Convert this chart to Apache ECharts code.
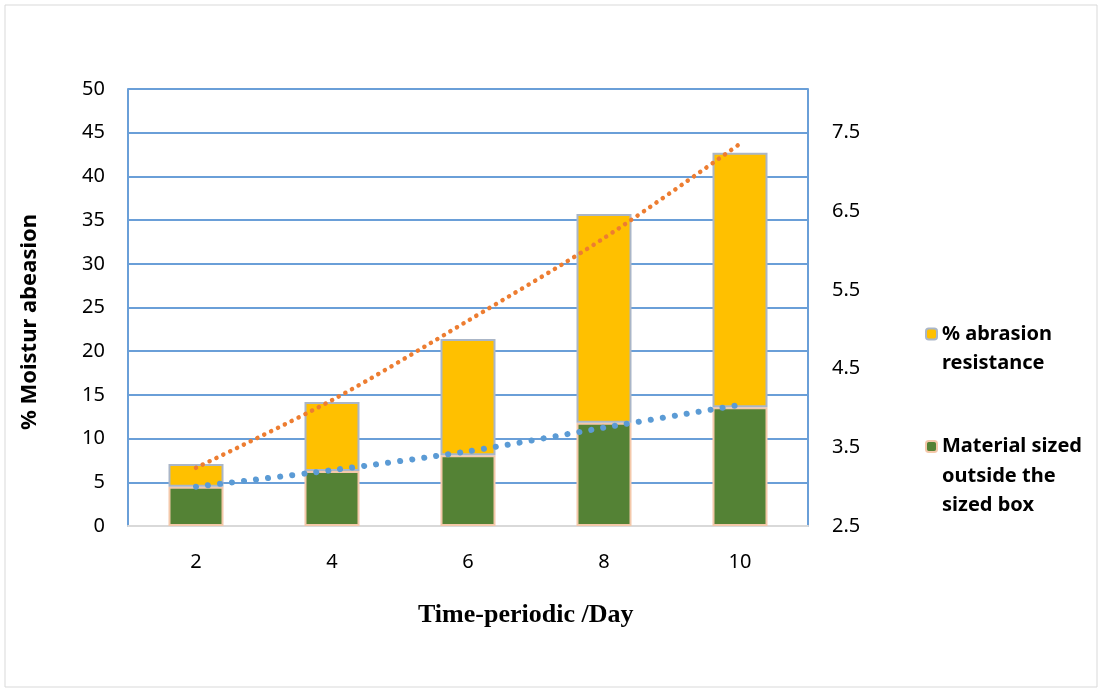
<html>
<head>
    <title>chart</title>
    <script src="https://cdn.jsdelivr.net/npm/echarts@6/dist/echarts.min.js"></script>
    <style>
        body { margin: 0; background: #fff; }
        #main { width: 1104px; height: 691px; }
    </style>
</head>
<body>
    <div id="main"></div>
    <script>
        var days = ['2', '4', '6', '8', '10'];
        // stacked bars (left axis)
        var materialOutside = [4.5, 6.3, 8.1, 11.8, 13.6];
        var abrasionResist = [2.6, 7.9, 13.3, 23.9, 29.1];
        // dotted trend lines (right axis)
        var trendOrange = [3.24, 4.10, 5.11, 6.16, 7.36];
        var trendBlue = [3.00, 3.21, 3.45, 3.75, 4.04];
        var leftTicks = { min: 0, max: 50, interval: 5 };
        var rightTicks = { min: 2.5, max: 2.5 + 50 / 9, interval: 1 };

        var chart = echarts.init(document.getElementById('main'));
        var font = 'Noto Sans';
        var gridBlue = '#6a9fd8';
        var legendText = { fontFamily: font, fontSize: 20, fontWeight: 'bold', color: '#000', lineHeight: 29.5 };

        var option = {
            animation: false,
            graphic: [{
                type: 'rect',
                shape: { x: 5, y: 5, width: 1092, height: 682 },
                style: { fill: 'none', stroke: '#d9d9d9', lineWidth: 1 }
            }, {
                type: 'text',
                left: 418, top: 595,
                style: { text: 'Time-periodic /Day', font: 'bold 26px "Liberation Serif"', fill: '#000' }
            }, {
                type: 'text',
                x: 30, y: 322,
                rotation: Math.PI / 2,
                style: {
                    text: '% Moistur abeasion', font: 'bold 22px "Noto Sans"', fill: '#000',
                    align: 'center', verticalAlign: 'middle'
                }
            }],
            grid: { left: 128, right: 296, top: 89, bottom: 165 },
            legend: [{
                left: 920, top: 281,
                itemWidth: 11, itemHeight: 11,
                data: ['% abrasion resistance'],
                formatter: function (n) { return ' \n% abrasion\nresistance'; },
                textStyle: legendText
            }, {
                left: 920, top: 364,
                itemWidth: 11, itemHeight: 11,
                data: ['Material sized outside the sized box'],
                formatter: function (n) { return ' \n \nMaterial sized\noutside the\nsized box'; },
                textStyle: legendText
            }],
            xAxis: {
                type: 'category',
                data: days,
                axisLine: { lineStyle: { color: '#d9d9d9', width: 2 } },
                axisTick: { show: false },
                axisLabel: { fontFamily: font, fontSize: 20, color: '#000', margin: 20 }
            },
            yAxis: [{
                type: 'value',
                min: leftTicks.min, max: leftTicks.max, interval: leftTicks.interval,
                axisLine: { show: true, lineStyle: { color: gridBlue, width: 2 } },
                axisTick: { show: false },
                axisLabel: { fontFamily: font, fontSize: 20, color: '#000', margin: 23 },
                splitLine: { lineStyle: { color: gridBlue, width: 2 } }
            }, {
                type: 'value',
                min: rightTicks.min, max: rightTicks.max, interval: rightTicks.interval,
                axisLine: { show: true, lineStyle: { color: gridBlue, width: 2 } },
                axisTick: { show: false },
                axisLabel: {
                    fontFamily: font, fontSize: 20, color: '#000', margin: 24,
                    showMaxLabel: false,
                    formatter: function (v) { return v.toFixed(1); }
                },
                splitLine: { show: false }
            }],
            series: [{
                name: 'Material sized outside the sized box',
                type: 'bar',
                stack: 'a',
                barWidth: 55,
                data: materialOutside,
                itemStyle: { color: '#548235', borderColor: '#f4c8aa', borderWidth: 2 }
            }, {
                name: '% abrasion resistance',
                type: 'bar',
                stack: 'a',
                barWidth: 55,
                data: abrasionResist,
                itemStyle: { color: '#ffc000', borderColor: '#aab6c8', borderWidth: 2 }
            }, {
                name: 'trend1',
                type: 'line',
                yAxisIndex: 1,
                smooth: 0.3,
                symbol: 'none',
                data: trendOrange,
                lineStyle: { color: '#ed7d31', width: 4.5, type: [0.1, 7.5], cap: 'round' },
                z: 5
            }, {
                name: 'trend2',
                type: 'line',
                yAxisIndex: 1,
                smooth: 0.3,
                symbol: 'none',
                data: trendBlue,
                lineStyle: { color: '#5b9bd5', width: 6, type: [0.1, 12], cap: 'round' },
                z: 5
            }]
        };
        chart.setOption(option);
    </script>
</body>
</html>
